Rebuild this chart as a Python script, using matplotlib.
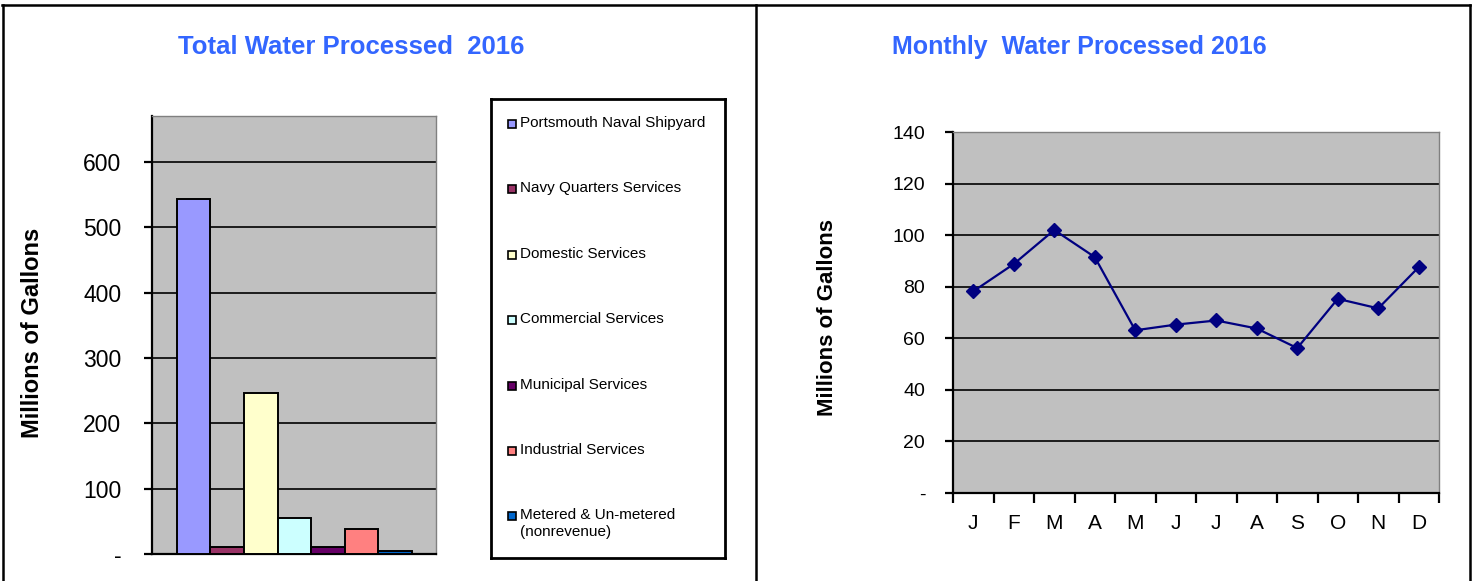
import numpy as np
import matplotlib
matplotlib.use("Agg")
import matplotlib.pyplot as plt
from matplotlib.lines import Line2D
from matplotlib.patches import Rectangle

plt.rcParams['font.family'] = ['Liberation Sans', 'DejaVu Sans']

# ---- data ----
categories = ["Portsmouth Naval Shipyard", "Navy Quarters Services", "Domestic Services",
              "Commercial Services", "Municipal Services", "Industrial Services",
              "Metered & Un-metered\n(nonrevenue)"]
totals = [543, 10, 246, 55, 10, 39, 5]
bar_colors = ["#9999FF", "#993366", "#FFFFCC", "#CCFFFF", "#660066", "#FF8080", "#0066CC"]

months = ["J", "F", "M", "A", "M", "J", "J", "A", "S", "O", "N", "D"]
monthly = [78.2, 88.8, 102.0, 91.5, 63.1, 65.3, 66.9, 63.8, 56.2, 75.3, 71.6, 87.6]

left_ticks = [0, 100, 200, 300, 400, 500, 600]
right_ticks = [0, 20, 40, 60, 80, 100, 120, 140]

W, H = 1474, 581
fig = plt.figure(figsize=(W / 100, H / 100), dpi=100)
fig.patch.set_facecolor("white")


def px_axes(x0, y0, x1, y1):
    # pixel box (top-left origin) -> figure fractions
    return fig.add_axes([x0 / W, 1 - y1 / H, (x1 - x0) / W, (y1 - y0) / H])


def style_axes(ax, pad):
    ax.set_facecolor("#C0C0C0")
    ax.set_axisbelow(True)
    ax.yaxis.grid(True, color="black", lw=1.2)
    ax.spines["left"].set_color("black")
    ax.spines["left"].set_linewidth(1.6)
    ax.spines["bottom"].set_color("black")
    ax.spines["bottom"].set_linewidth(1.6)
    for s in ("top", "right"):
        ax.spines[s].set_color("#808080")
        ax.spines[s].set_linewidth(1.0)
    ax.tick_params(axis="y", direction="out", length=6, width=1.6, pad=pad)


# ---- left: total water processed ----
ax1 = px_axes(152, 116, 436, 554)
style_axes(ax1, pad=16)
x = np.arange(len(totals))
ax1.bar(x, totals, width=1.0, color=bar_colors, edgecolor="black", linewidth=1.4, zorder=3)
ax1.set_xlim(-1.24, 7.22)
ax1.set_ylim(0, 670)
ax1.set_yticks(left_ticks)
ax1.set_yticklabels(["-" if v == 0 else str(v) for v in left_ticks], fontsize=16.5)
ax1.set_xticks([])

fig.text(351 / W, 1 - 47 / H, "Total Water Processed  2016", color="#3366FF",
         fontsize=18.5, fontweight="bold", ha="center", va="center")
fig.text(33 / W, 1 - 333 / H, "Millions of Gallons", rotation=90, fontsize=17,
         fontweight="bold", ha="center", va="center")

# legend box
axl = px_axes(491, 99, 725, 558)
axl.set_xticks([])
axl.set_yticks([])
for s in axl.spines.values():
    s.set_linewidth(2)
    s.set_color("black")
box_w, box_h = 725 - 491, 558 - 99
for i, (name, c) in enumerate(zip(categories, bar_colors)):
    yc = 124 + i * 65.4 - 99
    axl.add_patch(Rectangle((17 / box_w, 1 - (yc + 4) / box_h), 8 / box_w, 8 / box_h,
                            facecolor=c, edgecolor="black", lw=1.2,
                            transform=axl.transAxes))
    axl.text(29 / box_w, 1 - (yc - 8) / box_h, name, fontsize=11, va="top",
             ha="left", transform=axl.transAxes, linespacing=1.25)

# ---- right: monthly water processed ----
ax2 = px_axes(953, 132, 1439, 493)
style_axes(ax2, pad=14)
xm = np.arange(len(monthly))
ax2.plot(xm, monthly, color="#000080", lw=1.6, marker="D", ms=7.5, zorder=3)
ax2.set_xlim(-0.5, len(monthly) - 0.5)
ax2.set_ylim(0, 140)
ax2.set_yticks(right_ticks)
ax2.set_yticklabels(["-" if v == 0 else str(v) for v in right_ticks], fontsize=14)
ax2.set_xticks(xm)
ax2.set_xticklabels(months, fontsize=15)
ax2.set_xticks(np.arange(len(monthly) + 1) - 0.5, minor=True)
ax2.tick_params(axis="x", which="major", length=0, pad=15)
ax2.tick_params(axis="x", which="minor", direction="out", length=7, width=1.6)

fig.text(1079 / W, 1 - 47 / H, "Monthly  Water Processed 2016", color="#3366FF",
         fontsize=18, fontweight="bold", ha="center", va="center")
fig.text(827 / W, 1 - 318 / H, "Millions of Gallons", rotation=90, fontsize=16,
         fontweight="bold", ha="center", va="center")

# ---- outer frames ----
for (xa, ya, xb, yb) in [(2, 5, 1470, 5), (3, 5, 3, 581), (756, 5, 756, 581), (1470, 5, 1470, 581)]:
    fig.add_artist(Line2D([xa / W, xb / W], [1 - ya / H, 1 - yb / H], color="black", lw=1.8))

fig.savefig("out.png", dpi=100)
